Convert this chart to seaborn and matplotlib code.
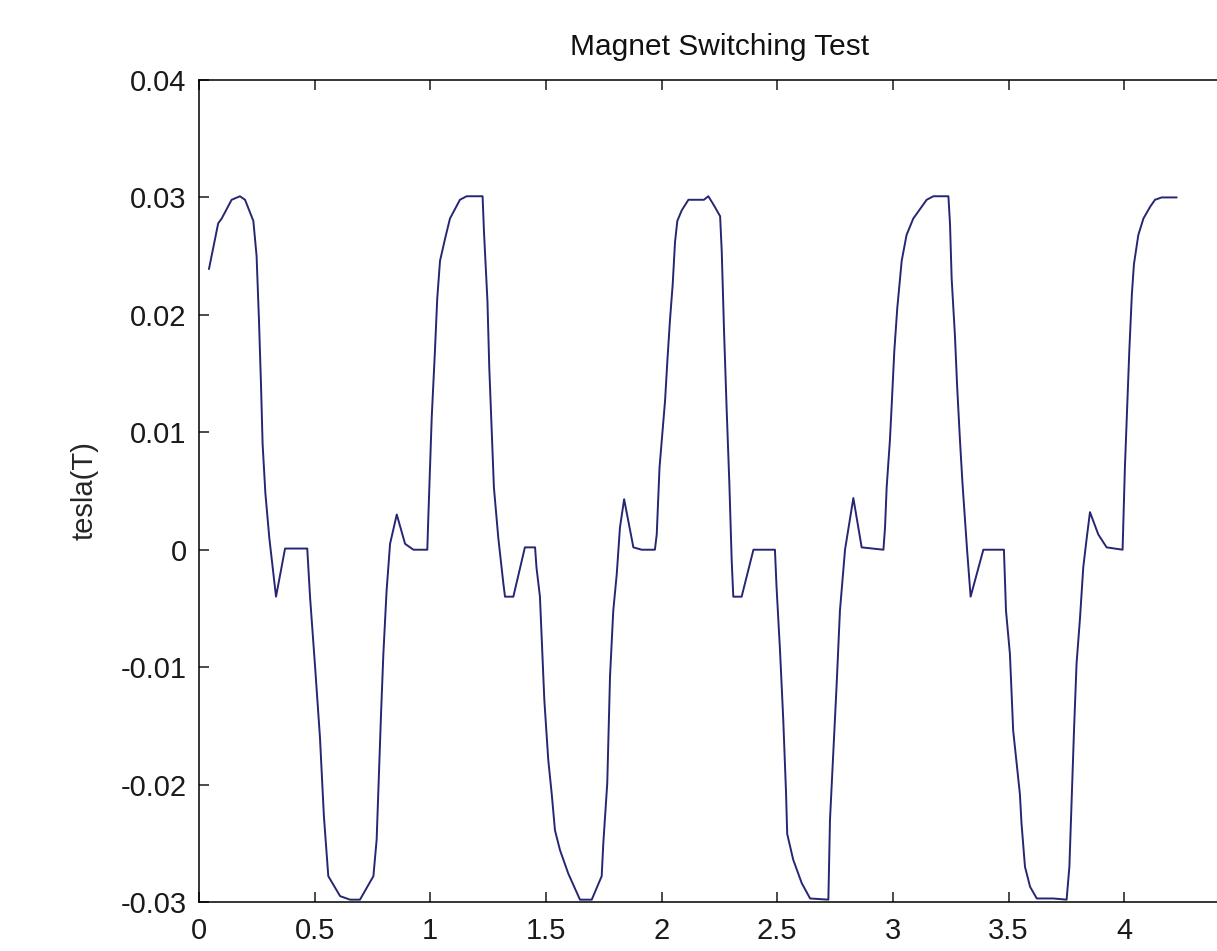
import matplotlib
matplotlib.use("Agg")
import matplotlib.pyplot as plt
import seaborn as sns
import numpy as np

# ---- data ----
time_s = [
    0.043, 0.083, 0.098, 0.141, 0.177, 0.199, 0.235, 0.249, 0.259, 0.268, 0.275, 0.287, 0.304, 0.333,
    0.372, 0.468, 0.480, 0.502, 0.523, 0.540, 0.559, 0.610, 0.653, 0.696, 0.754, 0.768, 0.787, 0.797,
    0.811, 0.826, 0.855, 0.891, 0.927, 0.987,
    0.991, 1.006, 1.020, 1.030, 1.042, 1.064, 1.085, 1.128, 1.157, 1.226, 1.232, 1.247, 1.255, 1.266,
    1.275, 1.294, 1.316, 1.323, 1.359, 1.409, 1.453,
    1.459, 1.474, 1.481, 1.493, 1.510, 1.525, 1.539, 1.561, 1.597, 1.647, 1.698, 1.741, 1.748, 1.765,
    1.777, 1.791, 1.806, 1.820, 1.838, 1.878, 1.914, 1.971,
    1.979, 1.991, 2.003, 2.015, 2.025, 2.036, 2.048, 2.058, 2.068, 2.087, 2.116, 2.183, 2.202, 2.224,
    2.253, 2.260, 2.270, 2.281, 2.293, 2.303, 2.310, 2.346, 2.397, 2.490,
    2.497, 2.512, 2.526, 2.538, 2.543, 2.569, 2.606, 2.642, 2.721, 2.728, 2.757, 2.771, 2.793, 2.829,
    2.865, 2.959,
    2.966, 2.973, 2.987, 2.995, 3.006, 3.019, 3.038, 3.059, 3.088, 3.146, 3.175, 3.240, 3.247, 3.254,
    3.268, 3.278, 3.290, 3.301, 3.311, 3.321, 3.336, 3.391, 3.480,
    3.489, 3.506, 3.520, 3.535, 3.549, 3.556, 3.571, 3.593, 3.622, 3.694, 3.751, 3.763, 3.773, 3.783,
    3.794, 3.809, 3.823, 3.838, 3.852, 3.888, 3.924, 3.993,
    4.003, 4.011, 4.022, 4.033, 4.042, 4.061, 4.083, 4.112, 4.133, 4.162, 4.227,
]
tesla = [
    0.0239, 0.0278, 0.0282, 0.0298, 0.0301, 0.0298, 0.0280, 0.0250, 0.0197, 0.0141, 0.0090, 0.0048, 0.0010, -0.0040,
    0.0001, 0.0001, -0.0040, -0.0100, -0.0160, -0.0227, -0.0278, -0.0295, -0.0298, -0.0298, -0.0278, -0.0247, -0.0140, -0.0089,
    -0.0035, 0.0005, 0.0030, 0.0005, 0.0, 0.0,
    0.0025, 0.0112, 0.0169, 0.0214, 0.0246, 0.0265, 0.0282, 0.0298, 0.0301, 0.0301, 0.0271, 0.0212, 0.0155, 0.0098,
    0.0053, 0.0010, -0.0029, -0.0040, -0.0040, 0.0002, 0.0002,
    -0.0015, -0.0040, -0.0072, -0.0128, -0.0179, -0.0208, -0.0239, -0.0256, -0.0276, -0.0298, -0.0298, -0.0278, -0.0250, -0.0199,
    -0.0108, -0.0052, -0.0021, 0.0019, 0.0043, 0.0002, 0.0, 0.0,
    0.0013, 0.0070, 0.0098, 0.0127, 0.0161, 0.0195, 0.0226, 0.0262, 0.0280, 0.0289, 0.0298, 0.0298, 0.0301, 0.0294,
    0.0284, 0.0254, 0.0186, 0.0121, 0.0056, -0.0009, -0.0040, -0.0040, 0.0, 0.0,
    -0.0032, -0.0086, -0.0145, -0.0207, -0.0242, -0.0264, -0.0284, -0.0297, -0.0298, -0.0230, -0.0114, -0.0052, 0.0, 0.0044,
    0.0002, 0.0,
    0.0019, 0.0053, 0.0093, 0.0124, 0.0169, 0.0206, 0.0246, 0.0268, 0.0282, 0.0298, 0.0301, 0.0301, 0.0277, 0.0231,
    0.0183, 0.0138, 0.0093, 0.0056, 0.0027, -0.0001, -0.0040, 0.0, 0.0,
    -0.0052, -0.0089, -0.0154, -0.0182, -0.0208, -0.0233, -0.0270, -0.0287, -0.0297, -0.0297, -0.0298, -0.0270, -0.0213, -0.0154,
    -0.0097, -0.0058, -0.0015, 0.0010, 0.0032, 0.0013, 0.0002, 0.0,
    0.0070, 0.0112, 0.0169, 0.0217, 0.0243, 0.0268, 0.0282, 0.0292, 0.0298, 0.0300, 0.0300,
]

x_ticks = [0, 0.5, 1, 1.5, 2, 2.5, 3, 3.5, 4, 4.5]
x_tick_labels = ["0", "0.5", "1", "1.5", "2", "2.5", "3", "3.5", "4", ""]
y_ticks = [-0.03, -0.02, -0.01, 0, 0.01, 0.02, 0.03, 0.04]
y_tick_labels = ["-0.03", "-0.02", "-0.01", "0", "0.01", "0.02", "0.03", "0.04"]

title = "Magnet Switching Test"
x_label = "time(s)"
y_label = "tesla(T)"

# ---- style ----
sns.set_theme(style="ticks")
plt.rcParams["font.family"] = ["Liberation Sans", "DejaVu Sans"]
plt.rcParams["axes.edgecolor"] = "black"
plt.rcParams["axes.linewidth"] = 1.1

fig = plt.figure(figsize=(12.17, 9.51), dpi=100)
fig.patch.set_facecolor("white")
W, H = 1217.0, 951.0
left_px, right_px, top_px, bottom_px = 199.0, 199.0 + 4.5 * 231.3, 80.0, 902.0
ax = fig.add_axes([left_px / W, (H - bottom_px) / H,
                   (right_px - left_px) / W, (bottom_px - top_px) / H])
ax.set_facecolor("white")

sns.lineplot(x=time_s, y=tesla, sort=False, estimator=None, ax=ax,
             color="#262673", linewidth=1.4)

ax.set_xlim(0, 4.5)
ax.set_ylim(-0.03, 0.04)
ax.set_xticks(x_ticks)
ax.set_xticklabels(x_tick_labels)
ax.set_yticks(y_ticks)
ax.set_yticklabels(y_tick_labels)

ax.tick_params(axis="both", direction="in", length=7, width=1.1,
               top=True, right=True, labelsize=21, colors="#1a1a1a", pad=9)
ax.tick_params(axis="x", pad=11)
for s in ax.spines.values():
    s.set_visible(True)
    s.set_color("black")
    s.set_linewidth(1.1)

ax.set_title(title, fontsize=21.5, pad=18, color="#111111")
ax.set_xlabel(x_label, fontsize=21, labelpad=6)
ax.set_ylabel(y_label, fontsize=21, labelpad=16)

fig.savefig("out.png", dpi=100, facecolor="white")
